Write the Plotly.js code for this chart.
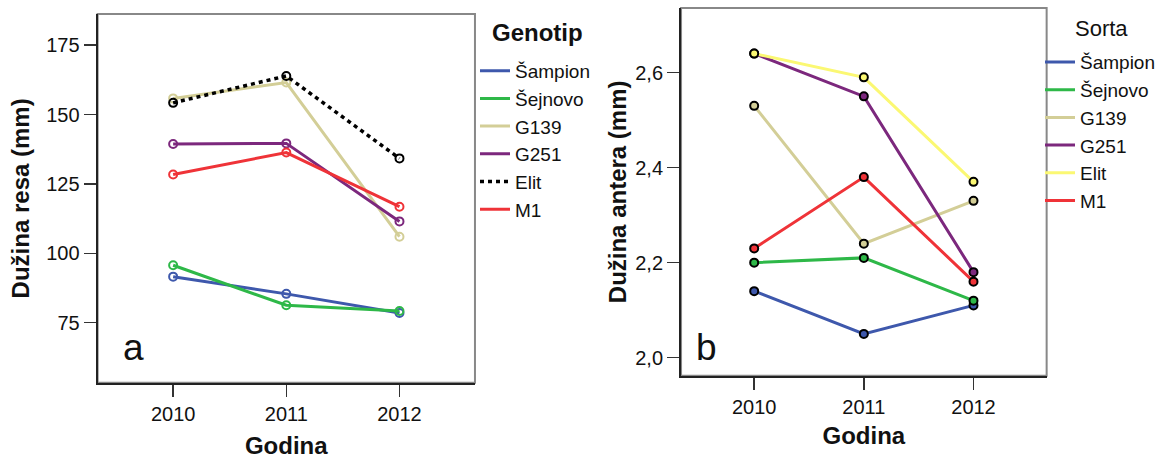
<!DOCTYPE html>
<html>
<head>
<meta charset="utf-8">
<script src="https://cdn.plot.ly/plotly-3.0.1.min.js"></script>
<style>html,body{margin:0;padding:0;background:#fff;}#chart{width:1161px;height:459px;}</style>
</head>
<body>
<div id="chart"></div>
<script>
// ---- data ----
var years = ['2010', '2011', '2012'];
var genotypes = ['Šampion', 'Šejnovo', 'G139', 'G251', 'Elit', 'M1'];
var colors = ['#3E58AC', '#2EB848', '#D3CE97', '#7C287D', '#FBF873', '#EF3338'];
// panel a: Dužina resa (mm)
var resaSampion = [91.6, 85.4, 78.5];
var resaSejnovo = [95.7, 81.3, 79.2];
var resaG139 = [155.8, 161.5, 106.0];
var resaG251 = [139.4, 139.6, 111.5];
var resaElit = [154.2, 163.9, 134.2];
var resaM1 = [128.4, 136.3, 116.8];
// panel b: Dužina antera (mm)
var anteraSampion = [2.14, 2.05, 2.11];
var anteraSejnovo = [2.20, 2.21, 2.12];
var anteraG139 = [2.53, 2.24, 2.33];
var anteraG251 = [2.64, 2.55, 2.18];
var anteraElit = [2.64, 2.59, 2.37];
var anteraM1 = [2.23, 2.38, 2.16];
var resaTicks = [75, 100, 125, 150, 175];
var anteraTicks = [2.0, 2.2, 2.4, 2.6];

var resa = [resaSampion, resaSejnovo, resaG139, resaG251, resaElit, resaM1];
var antera = [anteraSampion, anteraSejnovo, anteraG139, anteraG251, anteraElit, anteraM1];

var FONT = 'Liberation Sans, Arial, sans-serif';
var traces = [];
// panel a
for (var i = 0; i < genotypes.length; i++) {
  var isElit = genotypes[i] === 'Elit';
  var c = isElit ? '#000000' : colors[i];
  traces.push({
    x: years, y: resa[i], xaxis: 'x', yaxis: 'y', type: 'scatter', mode: 'lines+markers',
    name: genotypes[i], showlegend: false,
    line: {color: c, width: isElit ? 3.5 : 3, dash: isElit ? '4px,4px' : 'solid'},
    marker: {symbol: 'circle-open', size: 8, color: c, line: {width: 2, color: c}}
  });
}
for (var i = 0; i < genotypes.length; i++) {
  var isElit = genotypes[i] === 'Elit';
  var c = isElit ? '#000000' : colors[i];
  traces.push({
    x: [null], y: [null], xaxis: 'x', yaxis: 'y', type: 'scatter', mode: 'lines',
    name: genotypes[i], legend: 'legend',
    line: {color: c, width: isElit ? 3.5 : 3, dash: isElit ? '4px,4px' : 'solid'}
  });
}
// panel b
for (var i = 0; i < genotypes.length; i++) {
  traces.push({
    x: years, y: antera[i], xaxis: 'x2', yaxis: 'y2', type: 'scatter', mode: 'lines+markers',
    name: genotypes[i], showlegend: false,
    line: {color: colors[i], width: 3},
    marker: {symbol: 'circle', size: 8, color: colors[i], line: {width: 2, color: '#000000'}}
  });
}
for (var i = 0; i < genotypes.length; i++) {
  traces.push({
    x: [null], y: [null], xaxis: 'x2', yaxis: 'y2', type: 'scatter', mode: 'lines',
    name: genotypes[i], legend: 'legend2',
    line: {color: colors[i], width: 3}
  });
}

var axisCommon = {
  showgrid: false, zeroline: false, showline: true, linecolor: '#222', linewidth: 2,
  ticks: 'outside', ticklen: 12, tickwidth: 1.5, tickcolor: '#333',
  tickfont: {family: FONT, size: 20, color: '#111'}, fixedrange: true
};
function ax(extra) { var o = {}; for (var k in axisCommon) o[k] = axisCommon[k]; for (var k in extra) o[k] = extra[k]; return o; }

var layout = {
  width: 1161, height: 459,
  margin: {l: 0, r: 0, t: 0, b: 0, autoexpand: false},
  paper_bgcolor: '#fff', plot_bgcolor: '#fff',
  separators: ',.',
  font: {family: FONT, color: '#111'},
  xaxis: ax({domain: [0.0841, 0.4091], type: 'category', range: [-0.667, 2.667], anchor: 'y',
    title: {text: '<b>Godina</b>', font: {family: FONT, size: 24, color: '#111'}, standoff: 14}}),
  yaxis: ax({domain: [0.1662, 0.9695], range: [53.4, 186.2], anchor: 'x', tickvals: resaTicks,
    title: {text: '<b>Dužina resa (mm)</b>', font: {family: FONT, size: 24, color: '#111'}, standoff: 10}}),
  xaxis2: ax({domain: [0.5866, 0.9015], type: 'category', range: [-0.667, 2.667], anchor: 'y2',
    title: {text: '<b>Godina</b>', font: {family: FONT, size: 24, color: '#111'}, standoff: 11}}),
  yaxis2: ax({domain: [0.1815, 0.9826], range: [1.962, 2.736], anchor: 'x2', tickvals: anteraTicks, tickformat: '.1f',
    title: {text: '<b>Dužina antera (mm)</b>', font: {family: FONT, size: 24, color: '#111'}, standoff: 2}}),
  legend: {
    x: 475 / 1161, xanchor: 'left', y: 0.887, yanchor: 'top', bgcolor: 'rgba(0,0,0,0)',
    font: {family: FONT, size: 19, color: '#111'}, itemwidth: 30, tracegroupgap: 0
  },
  legend2: {
    x: 1040 / 1161, xanchor: 'left', y: 0.906, yanchor: 'top', bgcolor: 'rgba(0,0,0,0)',
    font: {family: FONT, size: 19, color: '#111'}, itemwidth: 30, tracegroupgap: 0
  },
  shapes: [
    {type: 'rect', xref: 'x domain', yref: 'y domain', x0: 0, x1: 1, y0: 0, y1: 1, line: {color: '#888', width: 2}, layer: 'below'},
    {type: 'rect', xref: 'x2 domain', yref: 'y2 domain', x0: 0, x1: 1, y0: 0, y1: 1, line: {color: '#888', width: 2}, layer: 'below'}
  ],
  annotations: [
    {text: '<b>Genotip</b>', xref: 'paper', yref: 'paper', x: 490 / 1161, xanchor: 'left', y: 1 - 33 / 459, yanchor: 'middle', showarrow: false, font: {family: FONT, size: 24, color: '#111'}},
    {text: 'Sorta', xref: 'paper', yref: 'paper', x: 1073 / 1161, xanchor: 'left', y: 1 - 29 / 459, yanchor: 'middle', showarrow: false, font: {family: FONT, size: 22, color: '#111'}},
    {text: 'a', xref: 'paper', yref: 'paper', x: 133 / 1161, xanchor: 'center', y: 1 - 347 / 459, yanchor: 'middle', showarrow: false, font: {family: FONT, size: 37, color: '#111'}},
    {text: 'b', xref: 'paper', yref: 'paper', x: 707 / 1161, xanchor: 'center', y: 1 - 347 / 459, yanchor: 'middle', showarrow: false, font: {family: FONT, size: 37, color: '#111'}}
  ]
};

Plotly.newPlot('chart', traces, layout, {displayModeBar: false, staticPlot: true});
</script>
</body>
</html>
